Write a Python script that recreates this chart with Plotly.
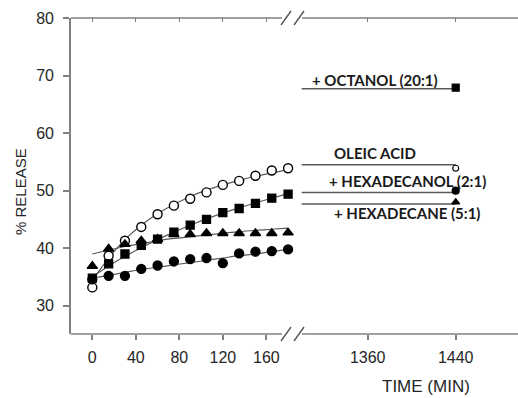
import plotly.graph_objects as go

# Sampling times (min) during the first three hours
time_min = [0, 15, 30, 45, 60, 75, 90, 105, 120, 135, 150, 165, 180]

# Measured release (%) per formulation
oleic_acid = [33.2, 38.7, 41.3, 43.7, 45.9, 47.4, 48.6, 49.7, 51.0, 51.7, 52.6, 53.5, 53.9]
octanol = [34.8, 37.3, 39.0, 40.5, 41.6, 42.8, 44.0, 45.0, 46.2, 46.9, 47.8, 48.7, 49.4]
hexadecane = [36.9, 39.9, 40.7, 41.3, 41.6, 42.4, 42.4, 42.6, 42.6, 42.6, 42.6, 42.6, 42.7]
hexadecanol = [34.6, 35.2, 35.2, 36.4, 37.0, 37.7, 38.1, 38.3, 37.4, 39.1, 39.4, 39.5, 39.8]

# Fitted curves through the early-time data
fit_oleic_acid = [34.4, 38.3, 41.5, 44.0, 46.0, 47.6, 49.0, 50.1, 51.0, 51.8, 52.5, 53.1, 53.6]
fit_octanol = [35.0, 36.9, 38.6, 40.1, 41.5, 42.8, 44.0, 45.1, 46.1, 47.0, 47.9, 48.7, 49.5]
fit_hexadecane = [39.0, 39.7, 40.3, 40.8, 41.3, 41.7, 42.0, 42.3, 42.6, 42.9, 43.1, 43.3, 43.5]
fit_hexadecanol = [34.8, 35.3, 35.8, 36.3, 36.7, 37.1, 37.5, 37.9, 38.3, 38.7, 39.0, 39.4, 39.8]

# Values at 24 h, and the level of each guide line leading to them
late_time = [1300, 1440]
end_oleic_acid, end_octanol, end_hexadecanol, end_hexadecane = 53.9, 67.9, 50.0, 48.0
guide_oleic_acid, guide_octanol, guide_hexadecanol, guide_hexadecane = 54.5, 67.7, 49.7, 47.7

# Series labels and where they sit on the late-time panel
label_text = ["+ OCTANOL (20:1)", "OLEIC ACID", "+ HEXADECANOL (2:1)", "+ HEXADECANE (5:1)"]
label_time = [1367, 1367, 1396, 1396]
label_level = [69.3, 56.6, 51.6, 46.1]

early_ticks = [0, 40, 80, 120, 160]
late_ticks = [1360, 1440]
y_ticks = [30, 40, 50, 60, 70, 80]

W, H = 518, 398
ML, MT, MB = 71, 18, 64
PW, PH = W - ML, H - MT - MB


def px(x, y):
    """Pixel position -> paper coordinates."""
    return (x - ML) / PW, (H - MB - y) / PH


AX = "#808080"
FIT = "#5a5a5a"
TXT = "#262626"
tick_font = dict(family="Arial, Liberation Sans", size=16, color=TXT)

fig = go.Figure()

series = [
    (oleic_acid, fit_oleic_acid, "circle-open", 9),
    (octanol, fit_octanol, "square", 8),
    (hexadecane, fit_hexadecane, "triangle-up", 9),
    (hexadecanol, fit_hexadecanol, "circle", 9),
]
for pts, fit, sym, size in series:
    fig.add_trace(go.Scatter(x=time_min, y=fit, mode="lines", line=dict(color=FIT, width=1.2, shape="spline"),
                             xaxis="x", yaxis="y", showlegend=False, hoverinfo="skip"))
for pts, fit, sym, size in series:
    marker = dict(symbol=sym, size=size, color="black", line=dict(color="black", width=1.3))
    if sym == "circle-open":
        marker = dict(symbol="circle", size=size, color="white", line=dict(color="black", width=1.4))
    fig.add_trace(go.Scatter(x=time_min, y=pts, mode="markers", marker=marker, cliponaxis=False,
                             xaxis="x", yaxis="y", showlegend=False))

late = [
    (guide_octanol, end_octanol, "square", 7, "black"),
    (guide_oleic_acid, end_oleic_acid, "circle", 6, "white"),
    (guide_hexadecanol, end_hexadecanol, "circle", 7, "black"),
    (guide_hexadecane, end_hexadecane, "triangle-up", 7, "black"),
]
for guide, end, sym, size, fill in late:
    fig.add_trace(go.Scatter(x=late_time, y=[guide, guide], mode="lines", line=dict(color=FIT, width=1.5),
                             xaxis="x2", yaxis="y", showlegend=False, hoverinfo="skip"))
    fig.add_trace(go.Scatter(x=[late_time[-1]], y=[end], mode="markers", cliponaxis=False,
                             marker=dict(symbol=sym, size=size, color=fill, line=dict(color="black", width=1.2)),
                             xaxis="x2", yaxis="y", showlegend=False))

# empty traces so the mirrored top axes are rendered
fig.add_trace(go.Scatter(x=[None], y=[None], xaxis="x3", yaxis="y", showlegend=False))
fig.add_trace(go.Scatter(x=[None], y=[None], xaxis="x4", yaxis="y", showlegend=False))

d1 = px(292, 0)[0]
d2 = px(300, 0)[0]
early_range = [-19.6, 183.6]
late_range = [1298.5, 1496.6]

common_x = dict(showgrid=False, zeroline=False, showline=False, ticks="outside", ticklen=5,
                tickwidth=1.5, tickcolor=AX, tickfont=tick_font, anchor="y", ticklabelstandoff=4)

annotations = []
for t, tx, lv in zip(label_text, label_time, label_level):
    annotations.append(dict(text="<b>" + t + "</b>", x=tx, y=lv, xref="x2", yref="y", showarrow=False,
                            font=dict(family="Lato", size=15, color="#1a1a1a"), xanchor="center", yanchor="middle"))
annotations.append(dict(text="TIME (MIN)", x=px(426, 0)[0], y=px(0, 386)[1], xref="paper", yref="paper",
                        showarrow=False, font=dict(family="Arial, Liberation Sans", size=17, color=TXT),
                        xanchor="center", yanchor="middle"))
annotations.append(dict(text="% RELEASE", x=px(20, 0)[0], y=px(0, 192)[1], xref="paper", yref="paper",
                        showarrow=False, textangle=-90,
                        font=dict(family="Arial, Liberation Sans", size=15, color=TXT),
                        xanchor="center", yanchor="middle"))

shapes = []


def seg(x0, y0, x1, y1, color=AX, width=1.6):
    a, b = px(x0, y0)
    c, d = px(x1, y1)
    shapes.append(dict(type="line", xref="paper", yref="paper", x0=a, y0=b, x1=c, y1=d,
                       line=dict(color=color, width=width)))


# broken frame lines, top and bottom
for yy in (MT, H - MB):
    seg(ML, yy, 282, yy)
    seg(302, yy, W, yy)
    seg(281, yy + 7, 291, yy - 7, color="#505050", width=1.3)
    seg(294, yy + 7, 304, yy - 7, color="#505050", width=1.3)

fig.update_layout(
    width=W, height=H,
    margin=dict(l=ML, r=0, t=MT, b=MB),
    plot_bgcolor="white", paper_bgcolor="white",
    xaxis=dict(domain=[0, d1], range=early_range, tickvals=early_ticks, **common_x),
    xaxis2=dict(domain=[d2, 1], range=late_range, tickvals=late_ticks, **common_x),
    xaxis3=dict(overlaying="x", side="top", range=early_range, tickvals=early_ticks, ticks="inside",
                ticklen=4, tickwidth=1.3, tickcolor=AX, showticklabels=False, showgrid=False,
                zeroline=False, showline=False, anchor="y"),
    xaxis4=dict(overlaying="x2", side="top", range=late_range, tickvals=late_ticks, ticks="inside",
                ticklen=4, tickwidth=1.3, tickcolor=AX, showticklabels=False, showgrid=False,
                zeroline=False, showline=False, anchor="y"),
    yaxis=dict(domain=[0, 1], range=[25.1, 80], tickvals=y_ticks, ticks="outside", ticklen=6,
               tickwidth=1.5, tickcolor=AX, showline=True, linecolor=AX, linewidth=1.6,
               showgrid=False, zeroline=False, tickfont=tick_font, anchor="x", ticklabelstandoff=6),
    annotations=annotations,
    shapes=shapes,
)

fig.write_html("out.html")
